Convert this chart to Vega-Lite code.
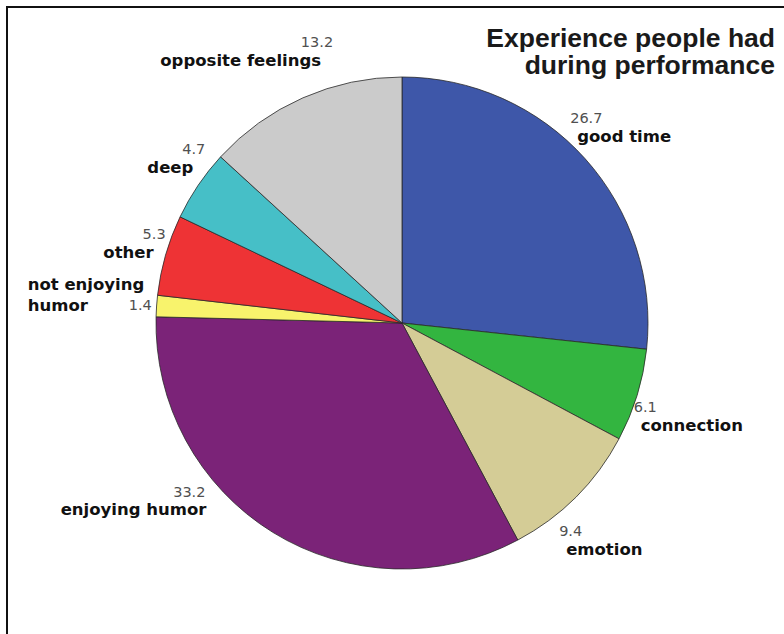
{
  "$schema": "https://vega.github.io/schema/vega-lite/v6.json",
  "width": 790,
  "height": 632,
  "autosize": "none",
  "padding": {"left": 7, "top": 7, "right": 0, "bottom": 0},
  "background": "white",
  "view": {"stroke": "#111111", "strokeWidth": 2, "fill": "white"},
  "title": {
    "text": ["Experience people had", "during performance"],
    "anchor": "end",
    "frame": "group",
    "orient": "top",
    "font": "Liberation Sans",
    "fontSize": 26.5,
    "fontWeight": "bold",
    "color": "#1a1a1a",
    "lineHeight": 27,
    "dx": -22,
    "offset": -124
  },
  "data": {
    "values": [
      {"category": "good time", "value": 26.7},
      {"category": "connection", "value": 6.1},
      {"category": "emotion", "value": 9.4},
      {"category": "enjoying humor", "value": 33.2},
      {"category": "not enjoying\nhumor", "value": 1.4},
      {"category": "other", "value": 5.3},
      {"category": "deep", "value": 4.7},
      {"category": "opposite feelings", "value": 13.2}
    ]
  },
  "transform": [{"stack": "value", "groupby": [], "as": ["v0", "v1"]}],
  "encoding": {
    "theta": {"field": "value", "type": "quantitative", "stack": true, "scale": {"domain": [0, 100]}},
    "order": {"field": "v0", "type": "quantitative"},
    "detail": {"field": "category", "type": "nominal"}
  },
  "layer": [
    {
      "mark": {"type": "arc", "outerRadius": 246, "stroke": "#2a2a2a", "strokeWidth": 0.8},
      "encoding": {
        "color": {
          "field": "category",
          "type": "nominal",
          "scale": {
            "domain": ["good time", "connection", "emotion", "enjoying humor", "not enjoying\nhumor", "other", "deep", "opposite feelings"],
            "range": ["#3e57a9", "#33b540", "#d4cc96", "#7b2378", "#f8f36c", "#ee3335", "#46bfc7", "#cbcbcb"]
          },
          "legend": null
        }
      }
    },
    {
      "mark": {"type": "text", "radius": 300, "align": "right", "baseline": "middle", "dx": 52, "dy": -5, "font": "DejaVu Sans", "fontSize": 14.5, "color": "#505050"},
      "encoding": {"text": {"condition": {"test": "datum.category == 'opposite feelings' || datum.category == 'deep' || datum.category == 'other'", "field": "value", "type": "quantitative", "format": ".1f"}, "value": ""}}
    },
    {
      "mark": {"type": "text", "radius": 300, "align": "right", "baseline": "middle", "dx": 40, "dy": 13, "font": "DejaVu Sans", "fontSize": 16.5, "fontWeight": "bold", "color": "#111111"},
      "encoding": {"text": {"condition": {"test": "datum.category == 'opposite feelings' || datum.category == 'deep' || datum.category == 'other'", "field": "category", "type": "nominal"}, "value": ""}}
    },
    {
      "mark": {"type": "text", "radius": 300, "align": "right", "baseline": "middle", "dx": 49, "dy": 4, "font": "DejaVu Sans", "fontSize": 14.5, "color": "#505050"},
      "encoding": {"text": {"condition": {"test": "datum.value == 1.4", "field": "value", "type": "quantitative", "format": ".1f"}, "value": ""}}
    },
    {
      "mark": {"type": "text", "radius": 300, "align": "left", "baseline": "middle", "lineBreak": "\n", "lineHeight": 21, "dx": -75, "dy": -17, "font": "DejaVu Sans", "fontSize": 16.5, "fontWeight": "bold", "color": "#111111"},
      "encoding": {"text": {"condition": {"test": "datum.value == 1.4", "field": "category", "type": "nominal"}, "value": ""}}
    },
    {
      "mark": {"type": "text", "radius": 300, "align": "right", "baseline": "middle", "dx": -39, "dy": -85, "font": "DejaVu Sans", "fontSize": 14.5, "color": "#505050"},
      "encoding": {"text": {"condition": {"test": "datum.category == 'enjoying humor'", "field": "value", "type": "quantitative", "format": ".1f"}, "value": ""}}
    },
    {
      "mark": {"type": "text", "radius": 300, "align": "right", "baseline": "middle", "dx": -38, "dy": -68, "font": "DejaVu Sans", "fontSize": 16.5, "fontWeight": "bold", "color": "#111111"},
      "encoding": {"text": {"condition": {"test": "datum.category == 'enjoying humor'", "field": "category", "type": "nominal"}, "value": ""}}
    },
    {
      "mark": {"type": "text", "radius": 300, "align": "left", "baseline": "middle", "dx": -55, "dy": -3, "font": "DejaVu Sans", "fontSize": 14.5, "color": "#505050"},
      "encoding": {"text": {"condition": {"test": "datum.category == 'good time' || datum.category == 'connection' || datum.category == 'emotion'", "field": "value", "type": "quantitative", "format": ".1f"}, "value": ""}}
    },
    {
      "mark": {"type": "text", "radius": 300, "align": "left", "baseline": "middle", "dx": -48, "dy": 15, "font": "DejaVu Sans", "fontSize": 16.5, "fontWeight": "bold", "color": "#111111"},
      "encoding": {"text": {"condition": {"test": "datum.category == 'good time' || datum.category == 'connection' || datum.category == 'emotion'", "field": "category", "type": "nominal"}, "value": ""}}
    }
  ]
}
